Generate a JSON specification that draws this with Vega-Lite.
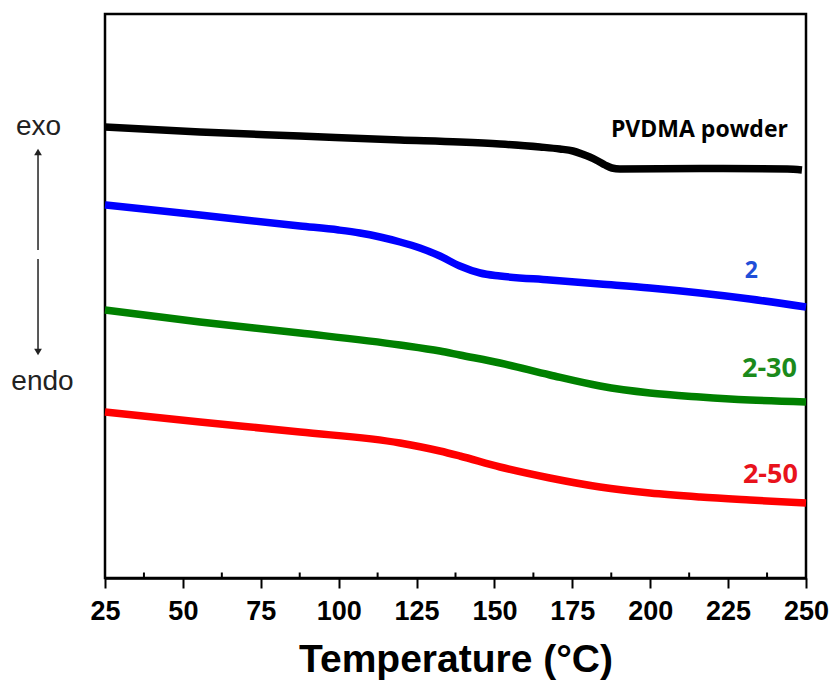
{
  "$schema": "https://vega.github.io/schema/vega-lite/v6.json",
  "width": 701,
  "height": 564,
  "autosize": {"type": "none"},
  "padding": {"left": 105, "top": 14, "right": 29, "bottom": 109},
  "background": "white",
  "config": {
    "view": {"stroke": "black", "strokeWidth": 2.5}
  },
  "datasets": {
    "curves": [
      {"T": 25, "signal": 4.51, "sample": "PVDMA powder"},
      {"T": 55.5, "signal": 4.46, "sample": "PVDMA powder"},
      {"T": 87.6, "signal": 4.42, "sample": "PVDMA powder"},
      {"T": 119.7, "signal": 4.38, "sample": "PVDMA powder"},
      {"T": 138.9, "signal": 4.36, "sample": "PVDMA powder"},
      {"T": 151.8, "signal": 4.34, "sample": "PVDMA powder"},
      {"T": 164.6, "signal": 4.31, "sample": "PVDMA powder"},
      {"T": 171, "signal": 4.29, "sample": "PVDMA powder"},
      {"T": 175.2, "signal": 4.27, "sample": "PVDMA powder"},
      {"T": 178.1, "signal": 4.24, "sample": "PVDMA powder"},
      {"T": 180.6, "signal": 4.21, "sample": "PVDMA powder"},
      {"T": 183.2, "signal": 4.17, "sample": "PVDMA powder"},
      {"T": 185.5, "signal": 4.13, "sample": "PVDMA powder"},
      {"T": 187.7, "signal": 4.10, "sample": "PVDMA powder"},
      {"T": 190.3, "signal": 4.09, "sample": "PVDMA powder"},
      {"T": 216, "signal": 4.095, "sample": "PVDMA powder"},
      {"T": 244, "signal": 4.09, "sample": "PVDMA powder"},
      {"T": 248.7, "signal": 4.08, "sample": "PVDMA powder"},
      {"T": 25, "signal": 3.73, "sample": "2"},
      {"T": 55.5, "signal": 3.63, "sample": "2"},
      {"T": 87.6, "signal": 3.52, "sample": "2"},
      {"T": 100, "signal": 3.48, "sample": "2"},
      {"T": 106.8, "signal": 3.45, "sample": "2"},
      {"T": 113.3, "signal": 3.41, "sample": "2"},
      {"T": 119.7, "signal": 3.36, "sample": "2"},
      {"T": 126.1, "signal": 3.30, "sample": "2"},
      {"T": 132.5, "signal": 3.22, "sample": "2"},
      {"T": 138.9, "signal": 3.12, "sample": "2"},
      {"T": 145.4, "signal": 3.05, "sample": "2"},
      {"T": 151.8, "signal": 3.02, "sample": "2"},
      {"T": 167.8, "signal": 2.98, "sample": "2"},
      {"T": 183.9, "signal": 2.94, "sample": "2"},
      {"T": 199.9, "signal": 2.90, "sample": "2"},
      {"T": 216, "signal": 2.85, "sample": "2"},
      {"T": 232, "signal": 2.79, "sample": "2"},
      {"T": 250, "signal": 2.71, "sample": "2"},
      {"T": 25, "signal": 2.68, "sample": "2-30"},
      {"T": 55.5, "signal": 2.56, "sample": "2-30"},
      {"T": 87.6, "signal": 2.45, "sample": "2-30"},
      {"T": 119.7, "signal": 2.33, "sample": "2-30"},
      {"T": 132.5, "signal": 2.27, "sample": "2-30"},
      {"T": 138.9, "signal": 2.23, "sample": "2-30"},
      {"T": 151.8, "signal": 2.15, "sample": "2-30"},
      {"T": 167.8, "signal": 2.03, "sample": "2-30"},
      {"T": 183.9, "signal": 1.92, "sample": "2-30"},
      {"T": 199.9, "signal": 1.85, "sample": "2-30"},
      {"T": 216, "signal": 1.81, "sample": "2-30"},
      {"T": 232, "signal": 1.78, "sample": "2-30"},
      {"T": 250, "signal": 1.76, "sample": "2-30"},
      {"T": 25, "signal": 1.66, "sample": "2-50"},
      {"T": 55.5, "signal": 1.56, "sample": "2-50"},
      {"T": 87.6, "signal": 1.46, "sample": "2-50"},
      {"T": 119.7, "signal": 1.35, "sample": "2-50"},
      {"T": 132.5, "signal": 1.27, "sample": "2-50"},
      {"T": 138.9, "signal": 1.22, "sample": "2-50"},
      {"T": 151.8, "signal": 1.11, "sample": "2-50"},
      {"T": 167.8, "signal": 1.00, "sample": "2-50"},
      {"T": 183.9, "signal": 0.91, "sample": "2-50"},
      {"T": 199.9, "signal": 0.85, "sample": "2-50"},
      {"T": 216, "signal": 0.81, "sample": "2-50"},
      {"T": 232, "signal": 0.78, "sample": "2-50"},
      {"T": 250, "signal": 0.75, "sample": "2-50"}
    ],
    "labels": [
      {"T": 244.2, "signal": 4.41, "text": "PVDMA powder", "sample": "PVDMA powder"},
      {"T": 234.6, "signal": 3.00, "text": "2", "sample": "2"},
      {"T": 247.1, "signal": 2.01, "text": "2-30", "sample": "2-30"},
      {"T": 247.4, "signal": 0.95, "text": "2-50", "sample": "2-50"}
    ],
    "minorticks": [
      {"T": 37.5}, {"T": 62.5}, {"T": 87.5}, {"T": 112.5}, {"T": 137.5},
      {"T": 162.5}, {"T": 187.5}, {"T": 212.5}, {"T": 237.5}
    ],
    "sidetext": [
      {"T": 3.66, "signal": 4.43, "text": "exo"},
      {"T": 4.94, "signal": 1.88, "text": "endo"}
    ],
    "arrowline": [
      {"T": 3.5, "top": 4.26, "bottom": 3.28},
      {"T": 3.5, "top": 3.19, "bottom": 2.27}
    ],
    "arrowheads": [
      {"T": 3.5, "signal": 4.26, "dir": "up"},
      {"T": 3.5, "signal": 2.26, "dir": "down"}
    ]
  },
  "layer": [
    {
      "data": {"name": "curves"},
      "mark": {"type": "line", "strokeWidth": 7.5, "interpolate": "monotone", "strokeCap": "butt"},
      "encoding": {
        "x": {
          "field": "T", "type": "quantitative",
          "scale": {"domain": [25, 250], "nice": false, "zero": false},
          "axis": {
            "values": [25, 50, 75, 100, 125, 150, 175, 200, 225, 250],
            "format": "d",
            "tickSize": 10,
            "tickWidth": 2,
            "tickColor": "black",
            "domainColor": "black",
            "domainWidth": 2.5,
            "grid": false,
            "labelFont": "Liberation Sans",
            "labelFontWeight": "bold",
            "labelFontSize": 27,
            "labelColor": "black",
            "labelPadding": 10,
            "labelFlush": false,
            "labelOverlap": false,
            "title": "Temperature (°C)",
            "titleFont": "Liberation Sans",
            "titleFontWeight": "bold",
            "titleFontSize": 39,
            "titleColor": "black",
            "titlePadding": 16
          }
        },
        "y": {
          "field": "signal", "type": "quantitative",
          "scale": {"domain": [0, 5.64], "nice": false, "zero": false},
          "axis": null
        },
        "color": {
          "field": "sample", "type": "nominal",
          "scale": {"domain": ["PVDMA powder", "2", "2-30", "2-50"], "range": ["#000000", "#0000ff", "#008000", "#ff0000"]},
          "legend": null
        },
        "detail": {"field": "sample"}
      }
    },
    {
      "data": {"name": "minorticks"},
      "mark": {"type": "rule", "strokeWidth": 2, "color": "black"},
      "encoding": {
        "x": {"field": "T", "type": "quantitative"},
        "y": {"datum": 0},
        "y2": {"datum": 0.055}
      }
    },
    {
      "data": {"name": "labels"},
      "transform": [{"filter": "datum.sample === 'PVDMA powder' || datum.sample === '2'"}],
      "mark": {"type": "text", "align": "right", "baseline": "alphabetic", "font": "Open Sans", "fontWeight": "bold", "fontSize": 23},
      "encoding": {
        "x": {"field": "T", "type": "quantitative"},
        "y": {"field": "signal", "type": "quantitative"},
        "text": {"field": "text"},
        "color": {
          "field": "sample", "type": "nominal",
          "scale": {"domain": ["PVDMA powder", "2", "2-30", "2-50"], "range": ["#000000", "#1f4fd8", "#1b8a1b", "#e8121c"]},
          "legend": null
        }
      }
    },
    {
      "data": {"name": "labels"},
      "transform": [{"filter": "datum.sample === '2-30' || datum.sample === '2-50'"}],
      "mark": {"type": "text", "align": "right", "baseline": "alphabetic", "font": "Open Sans", "fontWeight": "bold", "fontSize": 27},
      "encoding": {
        "x": {"field": "T", "type": "quantitative"},
        "y": {"field": "signal", "type": "quantitative"},
        "text": {"field": "text"},
        "color": {
          "field": "sample", "type": "nominal",
          "scale": {"domain": ["PVDMA powder", "2", "2-30", "2-50"], "range": ["#000000", "#1f4fd8", "#1b8a1b", "#e8121c"]},
          "legend": null
        }
      }
    },
    {
      "data": {"name": "sidetext"},
      "mark": {"type": "text", "align": "center", "baseline": "alphabetic", "font": "Liberation Sans", "fontSize": 28, "color": "#222222"},
      "encoding": {
        "x": {"field": "T", "type": "quantitative"},
        "y": {"field": "signal", "type": "quantitative"},
        "text": {"field": "text"}
      }
    },
    {
      "data": {"name": "arrowline"},
      "mark": {"type": "rule", "strokeWidth": 1.5, "color": "#222222"},
      "encoding": {
        "x": {"field": "T", "type": "quantitative"},
        "y": {"field": "top", "type": "quantitative"},
        "y2": {"field": "bottom"}
      }
    },
    {
      "data": {"name": "arrowheads"},
      "mark": {"type": "point", "filled": true, "color": "#222222", "size": 60, "opacity": 1},
      "encoding": {
        "x": {"field": "T", "type": "quantitative"},
        "y": {"field": "signal", "type": "quantitative"},
        "shape": {
          "field": "dir", "type": "nominal",
          "scale": {"domain": ["up", "down"], "range": ["triangle-up", "triangle-down"]},
          "legend": null
        }
      }
    }
  ],
  "resolve": {"scale": {"color": "independent"}}
}
